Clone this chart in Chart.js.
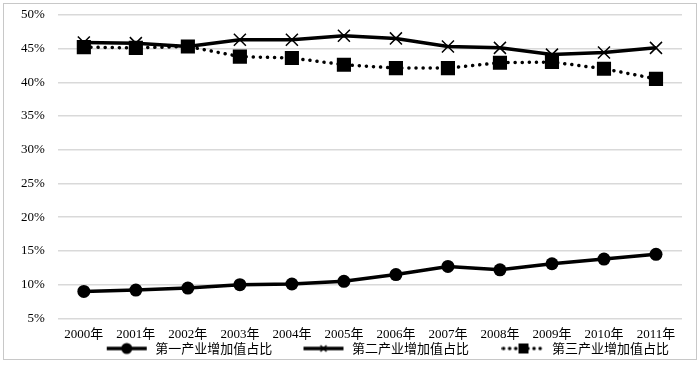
<!DOCTYPE html>
<html lang="zh">
<head>
    <meta charset="UTF-8">
    <title>三次产业增加值占比</title>
    <script src="https://cdn.jsdelivr.net/npm/chart.js"></script>
    <style>
        html, body { margin: 0; padding: 0; background: #fff; overflow: hidden; }
        #wrap {
            position: absolute;
            left: 3px; top: 3px;
            width: 692px; height: 355px;
            border: 1px solid #c8c8c8;
            overflow: hidden;
        }
        #inner {
            position: absolute;
            left: 0; top: -10px;
            width: 692px; height: 375px;
        }
    </style>
</head>
<body>
    <div id="wrap"><div id="inner"><canvas id="chart"></canvas></div></div>
    <script>
        // data
        const years = ['2000年', '2001年', '2002年', '2003年', '2004年', '2005年',
                       '2006年', '2007年', '2008年', '2009年', '2010年', '2011年'];
        const primary = [9.0, 9.2, 9.5, 10.0, 10.1, 10.5, 11.5, 12.7, 12.2, 13.1, 13.8, 14.5];
        const secondary = [45.9, 45.8, 45.3, 46.3, 46.3, 46.9, 46.5, 45.3, 45.1, 44.1, 44.4, 45.1];
        const tertiary = [45.2, 45.1, 45.3, 43.8, 43.6, 42.6, 42.1, 42.1, 42.9, 43.0, 42.0, 40.5];
        const seriesNames = ['第一产业增加值占比', '第二产业增加值占比', '第三产业增加值占比'];

        const fontFamily = '"Liberation Serif", "Noto Sans CJK SC", serif';
        const legendFont = '"Noto Sans CJK SC", sans-serif';
        // trailing gaps so the legend items sit like in the original
        const legendGaps = ['\u3000\u3000\u2005', '\u3000\u3000\u2002', '\u3000'];

        // small legend icons: line + marker
        function legendIcon(kind) {
            const c = document.createElement('canvas');
            c.width = 44; c.height = 14;
            const g = c.getContext('2d');
            g.strokeStyle = '#000';
            g.fillStyle = '#000';
            g.lineWidth = 3.5;
            if (kind === 'dot') {
                g.lineCap = 'round';
                g.setLineDash([0.1, 6]);
            }
            g.beginPath();
            g.moveTo(2, 7); g.lineTo(42, 7);
            g.stroke();
            g.setLineDash([]);
            if (kind === 'circle') {
                g.beginPath(); g.arc(22, 7, 5.5, 0, Math.PI * 2); g.fill();
            } else if (kind === 'cross') {
                g.lineWidth = 1.5;
                g.beginPath();
                g.moveTo(19, 4); g.lineTo(25, 10);
                g.moveTo(25, 4); g.lineTo(19, 10);
                g.stroke();
            } else {
                g.fillRect(17, 2, 10, 10);
            }
            return c;
        }
        const icons = [legendIcon('circle'), legendIcon('cross'), legendIcon('dot')];

        new Chart(document.getElementById('chart'), {
            type: 'line',
            data: {
                labels: years,
                datasets: [
                    {
                        label: seriesNames[0],
                        data: primary,
                        borderColor: '#000',
                        backgroundColor: '#000',
                        borderWidth: 3.5,
                        pointStyle: 'circle',
                        pointRadius: 6.5,
                        pointBorderWidth: 0,
                        tension: 0
                    },
                    {
                        label: seriesNames[1],
                        data: secondary,
                        borderColor: '#000',
                        backgroundColor: '#000',
                        borderWidth: 3.5,
                        pointStyle: 'crossRot',
                        pointRadius: 8.5,
                        pointBorderWidth: 1.5,
                        tension: 0
                    },
                    {
                        label: seriesNames[2],
                        data: tertiary,
                        borderColor: '#000',
                        backgroundColor: '#000',
                        borderWidth: 3.5,
                        borderDash: [0.1, 7],
                        borderCapStyle: 'round',
                        pointStyle: 'rect',
                        pointRadius: 10,
                        pointBorderWidth: 0,
                        tension: 0
                    }
                ]
            },
            options: {
                responsive: true,
                maintainAspectRatio: false,
                animation: false,
                layout: { padding: { left: 4, right: 14, top: 0, bottom: 4 } },
                scales: {
                    x: {
                        offset: true,
                        grid: { display: false },
                        border: { display: false },
                        ticks: { color: '#000', font: { family: fontFamily, size: 13 }, maxRotation: 0, padding: 0 }
                    },
                    y: {
                        min: 5,
                        max: 50,
                        ticks: {
                            stepSize: 5,
                            color: '#000',
                            padding: 13,
                            font: { family: fontFamily, size: 13 },
                            callback: v => v + '%'
                        },
                        grid: { color: '#d9d9d9', lineWidth: 1.5, drawTicks: false },
                        border: { display: false }
                    }
                },
                plugins: {
                    legend: {
                        position: 'bottom',
                        align: 'end',
                        labels: {
                            usePointStyle: true,
                            pointStyleWidth: 44,
                            boxHeight: 12,
                            padding: 0,
                            color: '#000',
                            font: { family: legendFont, size: 13 },
                            generateLabels: chart => chart.data.datasets.map((ds, i) => ({
                                text: ds.label + legendGaps[i],
                                pointStyle: icons[i],
                                fillStyle: '#000',
                                strokeStyle: '#000',
                                lineWidth: 0,
                                datasetIndex: i,
                                hidden: false
                            }))
                        }
                    },
                    tooltip: { enabled: false }
                }
            }
        });
    </script>
</body>
</html>
